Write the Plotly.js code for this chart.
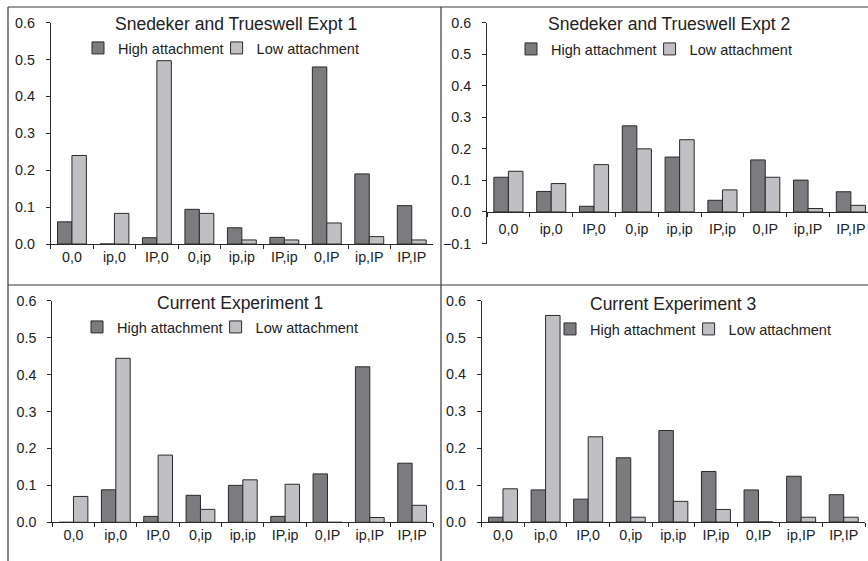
<!DOCTYPE html>
<html>
<head>
<meta charset="utf-8">
<script src="https://cdn.plot.ly/plotly-3.0.1.min.js"></script>
<style>
html,body{margin:0;padding:0;background:#fff;}
#chart{width:868px;height:561px;}
</style>
</head>
<body>
<div id="chart"></div>
<script>
// ---- data ----
const categories = ['0,0','ip,0','IP,0','0,ip','ip,ip','IP,ip','0,IP','ip,IP','IP,IP'];
const seriesNames = ['High attachment','Low attachment'];
const panelTitles = ['Snedeker and Trueswell Expt 1','Snedeker and Trueswell Expt 2','Current Experiment 1','Current Experiment 3'];

const st1High = [0.060, 0.000, 0.017, 0.094, 0.044, 0.018, 0.480, 0.190, 0.104];
const st1Low  = [0.240, 0.083, 0.497, 0.083, 0.011, 0.011, 0.057, 0.020, 0.011];

const st2High = [0.110, 0.065, 0.018, 0.273, 0.174, 0.037, 0.165, 0.101, 0.064];
const st2Low  = [0.129, 0.090, 0.150, 0.200, 0.229, 0.070, 0.110, 0.011, 0.021];

const ce1High = [0.000, 0.088, 0.016, 0.073, 0.100, 0.016, 0.131, 0.421, 0.160];
const ce1Low  = [0.070, 0.444, 0.182, 0.035, 0.115, 0.103, 0.000, 0.013, 0.046];

const ce3High = [0.013, 0.087, 0.062, 0.174, 0.248, 0.137, 0.087, 0.124, 0.074];
const ce3Low  = [0.090, 0.560, 0.231, 0.013, 0.056, 0.034, 0.000, 0.013, 0.013];

const yTickVals12 = [0, 0.1, 0.2, 0.3, 0.4, 0.5, 0.6];
const yTickVals2 = [-0.1, 0, 0.1, 0.2, 0.3, 0.4, 0.5, 0.6];

// ---- styling ----
const W = 868, H = 561;
const FONT = 'Liberation Sans, Arial, sans-serif';
const TXT = '#222222';
const HIGH_COLOR = '#7c7c80';
const LOW_COLOR = '#c0c0c4';
const EDGE = '#2a2a2a';

const px = v => v / W;
const py = v => (H - v) / H;

const panels = [
  {high: st1High, low: st1Low, xs: [50.7, 433], ys: [244, 22.7], yr: [0, 0.6], ticks: yTickVals12, xr: [-0.5, 8.5],
   title: [236, 24], leg: [90, 48], xso: 0},
  {high: st2High, low: st2Low, xs: [487, 868], ys: [243.5, 22.7], yr: [-0.1, 0.6], ticks: yTickVals2, xr: [-0.5, 8.40],
   title: [669, 24], leg: [523, 49], zeroX: 212, xso: 4},
  {high: ce1High, low: ce1Low, xs: [52.3, 433.3], ys: [522.3, 300.7], yr: [0, 0.6], ticks: yTickVals12, xr: [-0.5, 8.5],
   title: [240, 303], leg: [89, 327], xso: 0},
  {high: ce3High, low: ce3Low, xs: [481.7, 865], ys: [522, 300.7], yr: [0, 0.6], ticks: yTickVals12, xr: [-0.5, 8.5],
   title: [672.5, 304], leg: [562, 329], xso: 0}
];

const data = [];
const layout = {
  width: W, height: H,
  margin: {l: 0, r: 0, t: 0, b: 0},
  paper_bgcolor: '#ffffff', plot_bgcolor: 'rgba(0,0,0,0)',
  font: {family: FONT, color: TXT, size: 14},
  barmode: 'group', bargap: 0.32, bargroupgap: 0,
  showlegend: true,
  annotations: [], shapes: []
};

panels.forEach((p, i) => {
  const n = i === 0 ? '' : String(i + 1);
  const legName = 'legend' + n;
  [p.high, p.low].forEach((vals, k) => {
    data.push({
      type: 'bar', x: categories, y: vals, name: seriesNames[k],
      xaxis: 'x' + n, yaxis: 'y' + n, legend: legName,
      marker: {color: k === 0 ? HIGH_COLOR : LOW_COLOR, line: {color: EDGE, width: 1}},
      hoverinfo: 'x+y+name'
    });
  });
  const xa = {
    domain: [px(p.xs[0]), Math.min(1, px(p.xs[1]))],
    range: p.xr, type: 'category', fixedrange: true,
    showline: true, linecolor: EDGE, linewidth: 1,
    ticks: 'outside', tickson: 'boundaries', ticklen: 4, tickcolor: EDGE, tickwidth: 1,
    tickfont: {family: FONT, size: 14.3, color: TXT},
    showgrid: false, zeroline: false,
    anchor: 'y' + n, ticklabelstandoff: p.xso
  };
  if (p.zeroX !== undefined) {
    xa.anchor = 'free';
    xa.position = py(p.zeroX);
  }
  const ya = {
    domain: [py(p.ys[0]), py(p.ys[1])],
    range: p.yr, fixedrange: true,
    showline: true, linecolor: EDGE, linewidth: 1,
    ticks: 'outside', ticklen: 4, tickcolor: EDGE, tickwidth: 1,
    tickvals: p.ticks, tickformat: '.1f',
    tickfont: {family: FONT, size: 14.3, color: TXT},
    showgrid: false, zeroline: false,
    anchor: 'x' + n, ticklabelstandoff: 8
  };
  layout['xaxis' + n] = xa;
  layout['yaxis' + n] = ya;
  layout[legName] = {
    orientation: 'h', x: px(p.leg[0]), y: py(p.leg[1]), xanchor: 'left', yanchor: 'middle',
    font: {family: FONT, size: 14.5, color: TXT}, bgcolor: 'rgba(0,0,0,0)',
    itemwidth: 30, indentation: -12,
    tracegroupgap: 0, itemclick: false, itemdoubleclick: false
  };
  layout.annotations.push({
    text: panelTitles[i], xref: 'paper', yref: 'paper',
    x: px(p.title[0]), y: py(p.title[1]), xanchor: 'center', yanchor: 'middle',
    showarrow: false, font: {family: FONT, size: 17.5, color: TXT}
  });
});

// panel frame lines
const frame = [
  [8, 7, 868, 7],
  [8, 7, 8, 561],
  [441, 7, 441, 561],
  [8, 285, 868, 285]
];
frame.forEach(f => layout.shapes.push({
  type: 'line', xref: 'paper', yref: 'paper',
  x0: px(f[0]), y0: py(f[1]), x1: px(f[2]), y1: py(f[3]),
  line: {color: '#3a3a3a', width: 1.2}
}));

Plotly.newPlot('chart', data, layout, {displayModeBar: false, staticPlot: true});
</script>
</body>
</html>
